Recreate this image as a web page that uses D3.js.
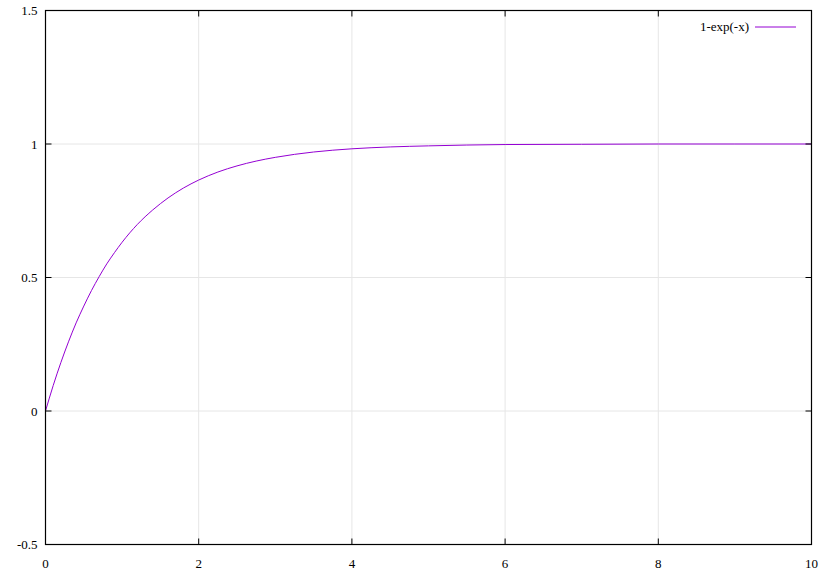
<!DOCTYPE html>
<html><head><meta charset="utf-8">
<script src="https://cdn.jsdelivr.net/npm/d3@7"></script>
<style>body{margin:0;background:#fff}svg{display:block}text{font-family:"Liberation Serif","Times New Roman",serif;font-size:13px;fill:#000}</style>
</head><body>
<svg id="c" width="828" height="583"></svg>
<script>
const xTicks = [0, 2, 4, 6, 8, 10];
const yTicks = [-0.5, 0, 0.5, 1, 1.5];
const seriesName = "1-exp(-x)";
const xs = [0,0.1,0.2,0.3,0.4,0.5,0.6,0.7,0.8,0.9,1.0,1.2,1.4,1.6,1.8,2.0,2.25,2.5,2.75,3,3.5,4,4.5,5,6,7,8,9,10];
const ys = [0,0.095,0.181,0.259,0.330,0.393,0.451,0.503,0.551,0.593,0.632,0.699,0.753,0.798,0.835,0.865,0.895,0.918,0.936,0.950,0.970,0.982,0.989,0.993,0.998,0.999,1.0,1.0,1.0];

const svg = d3.select("#c");
const L = 45.5, R = 811.5, T = 10.5, B = 544.5;
const x = d3.scaleLinear().domain([0, 10]).range([L, R]);
const y = d3.scaleLinear().domain([-0.5, 1.5]).range([B, T]);
const tl = 6;

// grid
svg.append("g").selectAll("line").data(xTicks.slice(1, -1)).join("line")
  .attr("x1", d => x(d)).attr("x2", d => x(d)).attr("y1", T).attr("y2", B)
  .attr("stroke", "#e6e6e6").attr("stroke-width", 1);
svg.append("g").selectAll("line").data(yTicks.slice(1, -1)).join("line")
  .attr("y1", d => y(d)).attr("y2", d => y(d)).attr("x1", L).attr("x2", R)
  .attr("stroke", "#e6e6e6").attr("stroke-width", 1);

// curve
const pts = xs.map((v, i) => [v, ys[i]]);
svg.append("path").datum(pts)
  .attr("d", d3.line().x(d => x(d[0])).y(d => y(d[1])).curve(d3.curveMonotoneX))
  .attr("fill", "none").attr("stroke", "#9400d3").attr("stroke-width", 1);

// ticks (mirrored, inward)
const tk = svg.append("g").attr("stroke", "#000").attr("stroke-width", 1);
xTicks.forEach(d => {
  tk.append("line").attr("x1", x(d)).attr("x2", x(d)).attr("y1", B).attr("y2", B - tl);
  tk.append("line").attr("x1", x(d)).attr("x2", x(d)).attr("y1", T).attr("y2", T + tl);
});
yTicks.forEach(d => {
  tk.append("line").attr("y1", y(d)).attr("y2", y(d)).attr("x1", L).attr("x2", L + tl);
  tk.append("line").attr("y1", y(d)).attr("y2", y(d)).attr("x1", R).attr("x2", R - tl);
});

// border
svg.append("rect").attr("x", L).attr("y", T).attr("width", R - L).attr("height", B - T)
  .attr("fill", "none").attr("stroke", "#000").attr("stroke-width", 1.2);

// labels
svg.append("g").selectAll("text").data(xTicks).join("text")
  .attr("x", d => x(d)).attr("y", B + 23).attr("text-anchor", "middle").text(d => d);
svg.append("g").selectAll("text").data(yTicks).join("text")
  .attr("x", L - 8).attr("y", d => y(d) + 4.5).attr("text-anchor", "end").text(d => d);

// legend
svg.append("text").attr("x", 749).attr("y", 31).attr("text-anchor", "end").text(seriesName);
svg.append("line").attr("x1", 755).attr("x2", 796).attr("y1", 27).attr("y2", 27)
  .attr("stroke", "#9400d3").attr("stroke-width", 1);
</script>
</body></html>
